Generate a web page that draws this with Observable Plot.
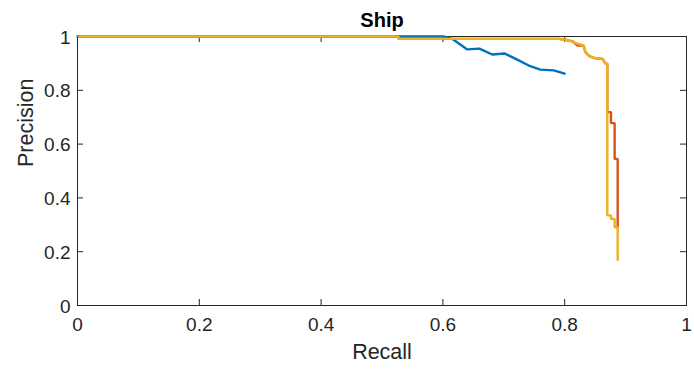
<!DOCTYPE html>
<html>
<head>
<meta charset="utf-8">
<script src="https://cdn.jsdelivr.net/npm/d3@7"></script>
<script src="https://cdn.jsdelivr.net/npm/@observablehq/plot@0.6"></script>
<style>
  html, body { margin: 0; padding: 0; background: #fff; }
  #chart svg { display: block; }
</style>
</head>
<body>
<div id="chart"></div>
<script>
// ---- Data ----
const title = "Ship";
const xLabel = "Recall";
const yLabel = "Precision";
const xTicks = [0, 0.2, 0.4, 0.6, 0.8, 1];
const yTicks = [0, 0.2, 0.4, 0.6, 0.8, 1];

const seriesNames = ["series1", "series2", "series3"];
const seriesColors = ["#0072BD", "#D95319", "#EDB120"];

const series1Recall    = [0, 0.601, 0.617, 0.640, 0.660, 0.681, 0.701, 0.722, 0.741, 0.760, 0.782, 0.800];
const series1Precision = [1, 1, 0.989, 0.952, 0.955, 0.933, 0.937, 0.914, 0.892, 0.877, 0.874, 0.862];

const series2Recall    = [0.003, 0.527, 0.527, 0.790, 0.801, 0.814, 0.821, 0.831, 0.834, 0.841, 0.851, 0.862, 0.867, 0.870, 0.870, 0.876, 0.876, 0.882, 0.882, 0.887, 0.887];
const series2Precision = [1, 1, 0.991, 0.991, 0.988, 0.981, 0.966, 0.967, 0.942, 0.926, 0.919, 0.917, 0.899, 0.899, 0.719, 0.719, 0.678, 0.678, 0.545, 0.545, 0.291];

const series3Recall    = [0.003, 0.527, 0.527, 0.790, 0.801, 0.814, 0.821, 0.831, 0.834, 0.841, 0.851, 0.862, 0.867, 0.870, 0.870, 0.876, 0.876, 0.882, 0.882, 0.887, 0.887];
const series3Precision = [1, 1, 0.991, 0.991, 0.988, 0.981, 0.973, 0.967, 0.942, 0.926, 0.919, 0.917, 0.899, 0.899, 0.335, 0.335, 0.322, 0.322, 0.291, 0.291, 0.170];

// ---- Build table ----
const allRecall = [series1Recall, series2Recall, series3Recall];
const allPrecision = [series1Precision, series2Precision, series3Precision];
const rows = [];
seriesNames.forEach((name, s) => {
  allRecall[s].forEach((r, i) => rows.push({series: name, recall: r, precision: allPrecision[s][i]}));
});

// ---- Layout ----
const W = 694, H = 369;
const mt = 36, mb = 64, ml = 77, mr = 8;
const frameH = H - mt - mb, frameW = W - ml - mr;
const tickLen = 6;
const axisColor = "#262626";

const chart = Plot.plot({
  width: W,
  height: H,
  marginTop: mt,
  marginBottom: mb,
  marginLeft: ml,
  marginRight: mr,
  style: {fontFamily: "'Liberation Sans', Arial, sans-serif", color: axisColor, background: "#fff"},
  x: {domain: [0, 1]},
  y: {domain: [0, 1]},
  color: {domain: seriesNames, range: seriesColors},
  marks: [
    Plot.frame({stroke: axisColor, strokeWidth: 1}),
    // inward ticks on all four sides
    Plot.ruleX(xTicks, {x: d => d, insetTop: frameH - tickLen, stroke: axisColor}),
    Plot.ruleX(xTicks, {x: d => d, insetBottom: frameH - tickLen, stroke: axisColor}),
    Plot.ruleY(yTicks, {y: d => d, insetRight: frameW - tickLen, stroke: axisColor}),
    Plot.ruleY(yTicks, {y: d => d, insetLeft: frameW - tickLen, stroke: axisColor}),
    Plot.axisX({ticks: xTicks, tickSize: 0, tickPadding: 12, fontSize: 19, label: null, tickFormat: d => String(d)}),
    Plot.axisY({ticks: yTicks, tickSize: 0, tickPadding: 7, fontSize: 19, label: null, tickFormat: d => String(d), dy: 1}),
    Plot.line(rows, {x: "recall", y: "precision", z: "series", stroke: "series", strokeWidth: 2.4, strokeLinejoin: "miter"}),
    Plot.text([xLabel], {frameAnchor: "bottom", lineAnchor: "top", dy: 38.7, fontSize: 21.5, fill: axisColor}),
    Plot.text([yLabel], {frameAnchor: "left", rotate: -90, dx: -51, dy: -4, fontSize: 21.5, fill: axisColor}),
    Plot.text([title], {frameAnchor: "top", lineAnchor: "top", dy: -23.5, fontSize: 20, fontWeight: "bold", fill: "#000"})
  ]
});
document.getElementById("chart").appendChild(chart);
</script>
</body>
</html>
